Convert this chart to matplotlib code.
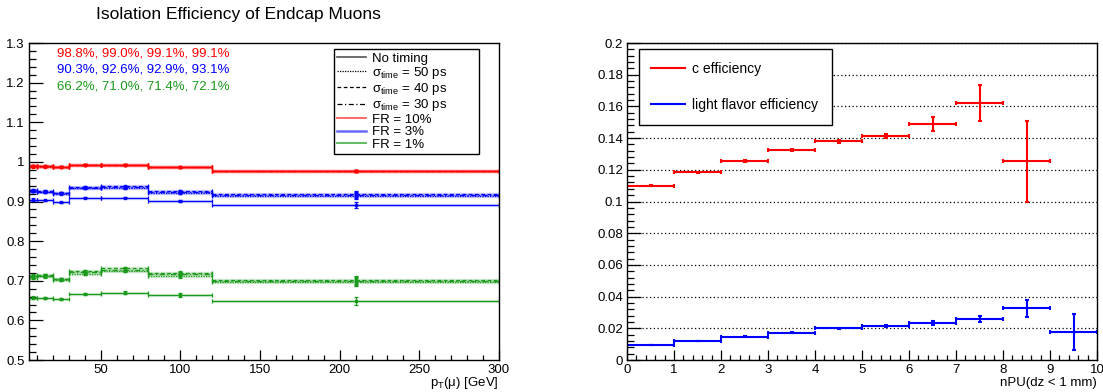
import matplotlib
matplotlib.use("Agg")
import matplotlib.pyplot as plt
from matplotlib.lines import Line2D
from matplotlib.ticker import MultipleLocator
import numpy as np

plt.rcParams['font.family'] = ['Liberation Sans', 'DejaVu Sans']
plt.rcParams['mathtext.fontset'] = 'custom'
plt.rcParams['mathtext.rm'] = 'Liberation Sans'
plt.rcParams['mathtext.it'] = 'Liberation Sans:italic'

# ---- left panel: isolation efficiency vs pT ----
pt_edges = [5, 10, 20, 30, 50, 80, 120, 300]

# FR = 10%
red_none = [0.990, 0.989, 0.988, 0.993, 0.993, 0.987, 0.977]
red_50 = [0.988, 0.988, 0.987, 0.992, 0.992, 0.986, 0.976]
red_40 = [0.990, 0.989, 0.988, 0.993, 0.993, 0.987, 0.977]
red_30 = [0.989, 0.989, 0.988, 0.993, 0.993, 0.987, 0.977]
red_err = [0.002, 0.001, 0.001, 0.001, 0.001, 0.001, 0.002]
# FR = 3%
blue_none = [0.905, 0.903, 0.898, 0.910, 0.910, 0.902, 0.891]
blue_50 = [0.926, 0.924, 0.920, 0.933, 0.934, 0.922, 0.914]
blue_40 = [0.928, 0.926, 0.922, 0.937, 0.938, 0.926, 0.919]
blue_30 = [0.927, 0.925, 0.921, 0.935, 0.936, 0.924, 0.917]
blue_err = [0.003, 0.002, 0.002, 0.002, 0.002, 0.003, 0.007]
# FR = 1%
green_none = [0.657, 0.657, 0.654, 0.667, 0.670, 0.664, 0.648]
green_50 = [0.708, 0.711, 0.702, 0.718, 0.724, 0.712, 0.697]
green_40 = [0.713, 0.715, 0.705, 0.725, 0.731, 0.720, 0.703]
green_30 = [0.711, 0.713, 0.704, 0.722, 0.728, 0.718, 0.700]
green_err = [0.004, 0.003, 0.003, 0.003, 0.003, 0.005, 0.010]

pct_labels = ["98.8%, 99.0%, 99.1%, 99.1%",
              "90.3%, 92.6%, 92.9%, 93.1%",
              "66.2%, 71.0%, 71.4%, 72.1%"]

legend_left = ["No timing", r"σ$_{\rm time}$ = 50 ps", r"σ$_{\rm time}$ = 40 ps",
               r"σ$_{\rm time}$ = 30 ps", "FR = 10%", "FR = 3%", "FR = 1%"]

# ---- right panel: efficiency vs nPU ----
npu_edges = list(range(0, 11))
c_eff = [0.1100, 0.1186, 0.1255, 0.1326, 0.1379, 0.1412, 0.1490, 0.1622, 0.1253]
c_err = [0.0003, 0.0003, 0.0004, 0.0005, 0.0010, 0.0013, 0.0044, 0.0114, 0.0255]
l_eff = [0.0095, 0.0121, 0.0147, 0.0172, 0.0199, 0.0214, 0.0233, 0.0260, 0.0325, 0.0178]
l_err = [0.0002, 0.0002, 0.0002, 0.0002, 0.0003, 0.0005, 0.0010, 0.0020, 0.0055, 0.0115]

RED = '#ff0000'
BLUE = '#0000ff'
GREEN = '#1a9a1a'


def style_axes(ax):
    for s in ax.spines.values():
        s.set_linewidth(1.0)
    ax.tick_params(which='both', direction='in', top=False, right=False,
                   labelsize=9.5, width=0.9, pad=3)
    ax.tick_params(axis='y', which='major', length=10)
    ax.tick_params(axis='y', which='minor', length=5)
    ax.tick_params(axis='x', which='major', length=7)
    ax.tick_params(axis='x', which='minor', length=3.5)


def draw_hist(ax, edges, vals, errs, color, ls):
    e = np.array(edges, dtype=float)
    centers = 0.5 * (e[:-1] + e[1:])
    half = 0.5 * (e[1:] - e[:-1])
    ax.hlines(vals, e[:-1], e[1:], colors=color, linewidth=2.4, alpha=0.18)
    eb = ax.errorbar(centers, vals, xerr=half, yerr=errs, fmt='s', ms=1.8,
                     color=color, ecolor=color, elinewidth=0.9, capsize=1.5,
                     capthick=0.9)
    eb[2][0].set_linestyle(ls)


fig = plt.figure(figsize=(11.03, 3.92), dpi=100)
ax1 = fig.add_axes([0.0263, 0.0816, 0.4261, 0.8087])
ax2 = fig.add_axes([0.5685, 0.0816, 0.4261, 0.8087])

styles = ['-', (0, (1, 1)), (0, (3, 2)), (0, (4, 2, 1, 2))]
for color, series, err in [
        (GREEN, [green_none, green_50, green_40, green_30], green_err),
        (BLUE, [blue_none, blue_50, blue_40, blue_30], blue_err),
        (RED, [red_none, red_50, red_40, red_30], red_err)]:
    for vals, ls in zip(series, styles):
        draw_hist(ax1, pt_edges, vals, err, color, ls)

ax1.set_xlim(5, 300)
ax1.set_ylim(0.5, 1.3)
ax1.xaxis.set_minor_locator(MultipleLocator(10))
ax1.yaxis.set_minor_locator(MultipleLocator(0.02))
ax1.set_yticks(np.arange(0.5, 1.31, 0.1))
ax1.set_yticklabels(['0.5', '0.6', '0.7', '0.8', '0.9', '1', '1.1', '1.2', '1.3'])
ax1.set_xticks([50, 100, 150, 200, 250, 300])
style_axes(ax1)

fig.text(0.216, 0.962, "Isolation Efficiency of Endcap Muons", fontsize=12.5,
         ha='center', va='center')
ax1.text(1.0, -0.074, r"p$_{\rm T}$(μ) [GeV]", transform=ax1.transAxes,
         ha='right', va='center', fontsize=9.5)

for i, (txt, col) in enumerate(zip(pct_labels, [RED, BLUE, GREEN])):
    ax1.text(0.06, 0.968 - i * 0.052, txt, transform=ax1.transAxes,
             color=col, fontsize=9.5, ha='left', va='center')

handles = [Line2D([], [], color='#555555', lw=1.2),
           Line2D([], [], color='black', lw=0.9, ls=(0, (1, 1))),
           Line2D([], [], color='black', lw=0.9, ls=(0, (3, 2))),
           Line2D([], [], color='black', lw=0.9, ls=(0, (4, 2, 1, 2))),
           Line2D([], [], color='#ff5a5a', lw=1.3),
           Line2D([], [], color='#6a6aff', lw=1.8),
           Line2D([], [], color='#55b855', lw=1.3)]
leg1 = ax1.legend(handles, legend_left, loc='upper left',
                  bbox_to_anchor=(0.649, 0.981, 0.308, 0.0), mode='expand',
                  fontsize=9.5, frameon=True, fancybox=False, framealpha=1,
                  edgecolor='black', borderaxespad=0, borderpad=0.25,
                  handlelength=2.2, handletextpad=0.45, labelspacing=0.02)
leg1.get_frame().set_linewidth(1.0)

# right panel
ne = np.array(npu_edges, dtype=float)
cent = 0.5 * (ne[:-1] + ne[1:])
ax2.errorbar(cent[:len(c_eff)], c_eff, xerr=0.5, yerr=c_err, fmt='none',
             ecolor=RED, elinewidth=1.5, capsize=1.5, capthick=1.5)
ax2.errorbar(cent[:len(l_eff)], l_eff, xerr=0.5, yerr=l_err, fmt='none',
             ecolor=BLUE, elinewidth=1.5, capsize=1.5, capthick=1.5)
ax2.set_xlim(0, 10)
ax2.set_ylim(0, 0.2)
ax2.xaxis.set_minor_locator(MultipleLocator(0.2))
ax2.yaxis.set_minor_locator(MultipleLocator(0.004))
ax2.set_yticks(np.arange(0, 0.201, 0.02))
ax2.set_yticklabels(['0', '0.02', '0.04', '0.06', '0.08', '0.1', '0.12',
                     '0.14', '0.16', '0.18', '0.2'])
ax2.set_xticks(range(0, 11))
ax2.set_xticklabels([str(v) for v in range(0, 11)])
ax2.yaxis.grid(True, which='major', color='black', linestyle=(0, (1, 2)),
               linewidth=0.9)
ax2.set_axisbelow(True)
style_axes(ax2)
ax2.text(1.0, -0.074, "nPU(dz < 1 mm)", transform=ax2.transAxes,
         ha='right', va='center', fontsize=9.5)

h2 = [Line2D([], [], color=RED, lw=1.5), Line2D([], [], color=BLUE, lw=1.5)]
leg2 = ax2.legend(h2, ["c efficiency", "light flavor efficiency"],
                  loc='upper left', bbox_to_anchor=(0.025, 0.980, 0.411, 0.0),
                  mode='expand', fontsize=10, frameon=True, fancybox=False,
                  framealpha=1, edgecolor='black', borderaxespad=0,
                  borderpad=0.9, handlelength=2.45, handletextpad=0.47,
                  labelspacing=1.6)
leg2.get_frame().set_linewidth(1.0)

fig.savefig("out.png", dpi=100)
